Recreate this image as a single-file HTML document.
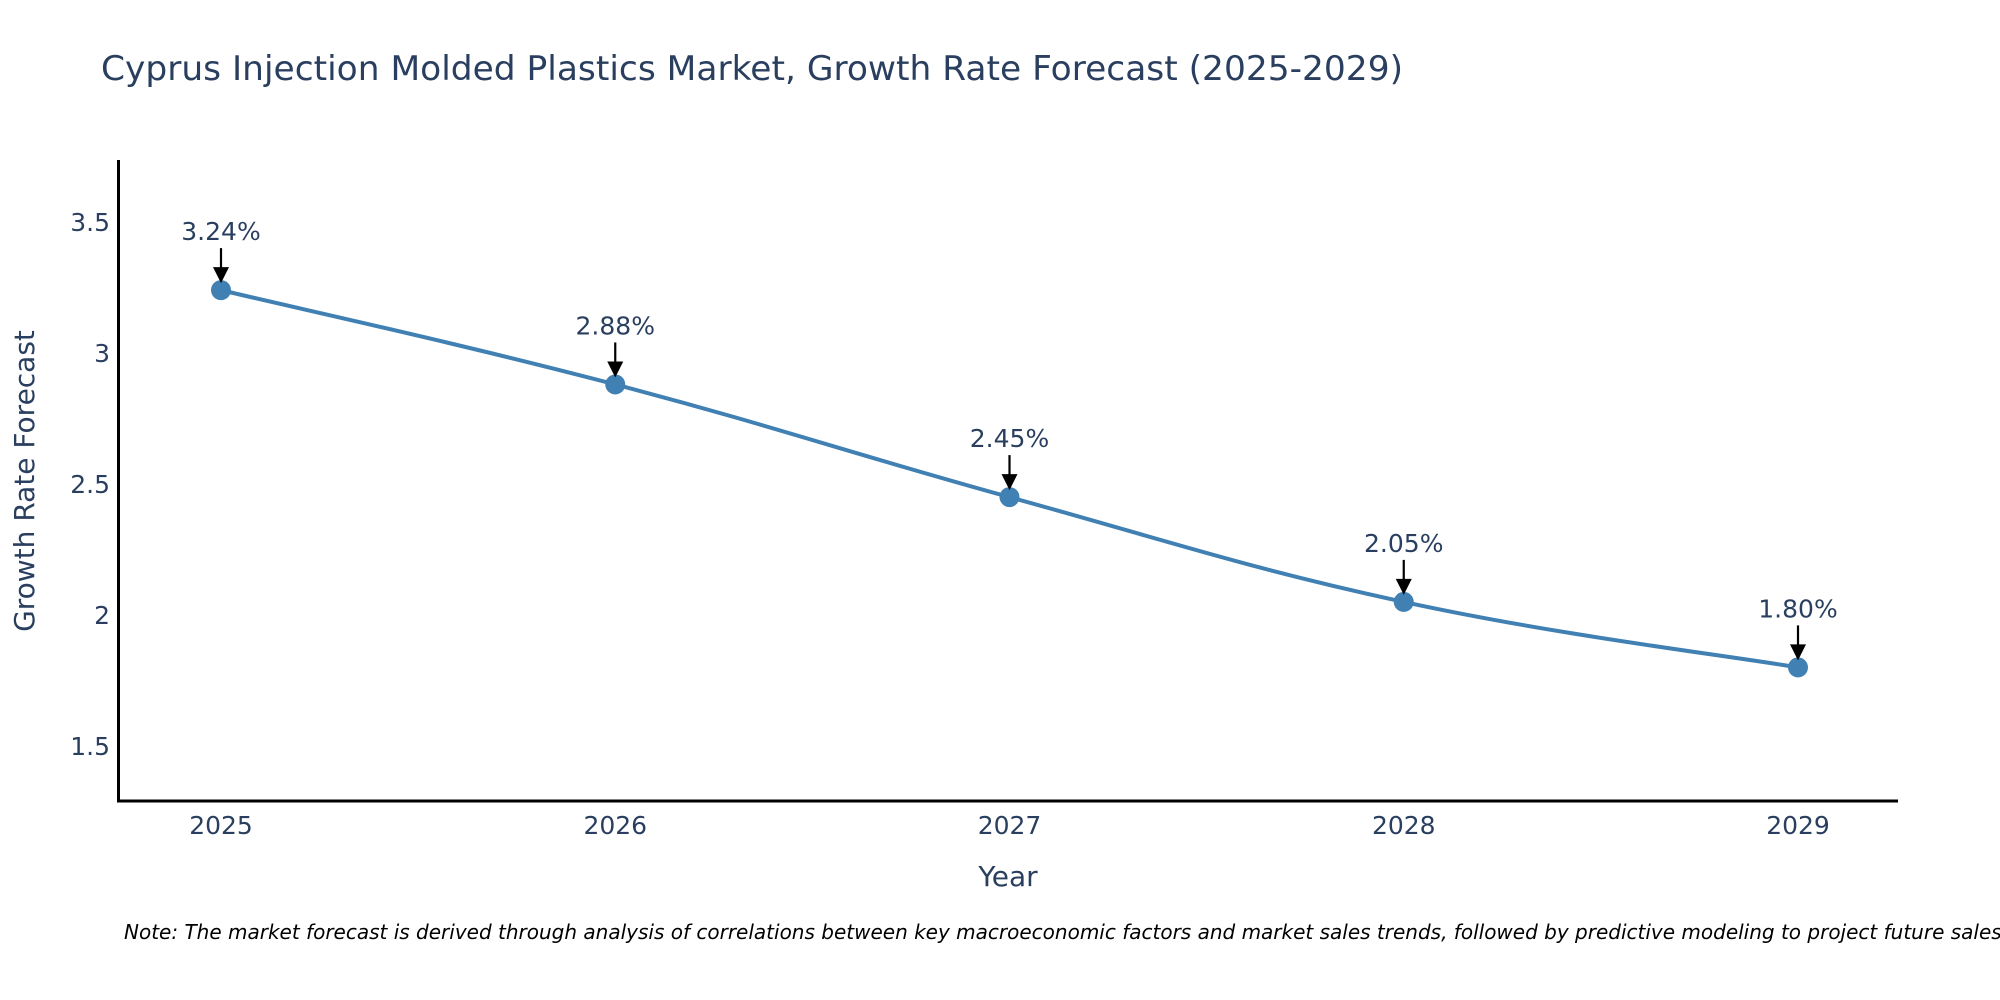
<!DOCTYPE html>
<html><head><meta charset="utf-8"><style>
html,body{margin:0;padding:0;background:#fff;}
svg{display:block;font-family:"DejaVu Sans","Liberation Sans",sans-serif;}
</style></head><body>
<svg id="chart" width="2000" height="1000" viewBox="0 0 2000 1000">
<text x="101" y="80" font-size="34" fill="#2a3f5f" textLength="1302" lengthAdjust="spacingAndGlyphs">Cyprus Injection Molded Plastics Market, Growth Rate Forecast (2025-2029)</text>
<g id="yticks"></g>
<g id="xticks"></g>
<path id="line" fill="none" stroke="#4180b3" stroke-width="4"/>
<g id="points"></g>
<g id="annots"></g>
<line x1="118.5" y1="160" x2="118.5" y2="802" stroke="#000" stroke-width="3"/>
<line x1="117" y1="801" x2="1898" y2="801" stroke="#000" stroke-width="3"/>
<text transform="translate(34,481) rotate(-90)" text-anchor="middle" font-size="28" fill="#2a3f5f">Growth Rate Forecast</text>
<text x="1008" y="886" text-anchor="middle" font-size="28" fill="#2a3f5f">Year</text>
<text x="124" y="939" font-size="20" font-style="italic" fill="#000">Note: The market forecast is derived through analysis of correlations between key macroeconomic factors and market sales trends, followed by predictive modeling to project future sales.</text>
</svg>
<script>
const years = [2025, 2026, 2027, 2028, 2029];
const rates = [3.24, 2.88, 2.45, 2.05, 1.80];
const labels = ["3.24%", "2.88%", "2.45%", "2.05%", "1.80%"];
const yTickVals = [1.5, 2, 2.5, 3, 3.5];
const yTickLabels = ["1.5", "2", "2.5", "3", "3.5"];

const NS = "http://www.w3.org/2000/svg";
const xScale = v => 221 + (v - 2025) * 394.25;
const yScale = v => 746 - (v - 1.5) * 262;

function mk(tag, attrs, parent) {
  const e = document.createElementNS(NS, tag);
  for (const k in attrs) e.setAttribute(k, attrs[k]);
  parent.appendChild(e);
  return e;
}
const yt = document.getElementById('yticks');
yTickVals.forEach((v, i) => {
  const t = mk('text', {x: 110, y: yScale(v) + 9, 'text-anchor': 'end', 'font-size': 25, fill: '#2a3f5f'}, yt);
  
  
  t.textContent = yTickLabels[i];
});
const xt = document.getElementById('xticks');
years.forEach(y => {
  const t = mk('text', {x: xScale(y), y: 834, 'text-anchor': 'middle', 'font-size': 25, fill: '#2a3f5f'}, xt);
  
  
  t.textContent = String(y);
});
const pts = years.map((y, i) => [xScale(y), yScale(rates[i])]);
let d = `M${pts[0][0]},${pts[0][1]}`;
const s = 0.2;
for (let i = 0; i < pts.length - 1; i++) {
  const p0 = pts[Math.max(0, i - 1)], p1 = pts[i], p2 = pts[i + 1], p3 = pts[Math.min(pts.length - 1, i + 2)];
  const c1 = [p1[0] + (p2[0] - p0[0]) * s, p1[1] + (p2[1] - p0[1]) * s];
  const c2 = [p2[0] - (p3[0] - p1[0]) * s, p2[1] - (p3[1] - p1[1]) * s];
  d += ` C${c1[0]},${c1[1]} ${c2[0]},${c2[1]} ${p2[0]},${p2[1]}`;
}
document.getElementById('line').setAttribute('d', d);
const pg = document.getElementById('points');
const ag = document.getElementById('annots');
pts.forEach((p, i) => {
  const c = mk('circle', {cx: p[0], cy: p[1], r: 10, fill: '#4180b3'}, pg);
  
  
  const l = mk('line', {x1: p[0], y1: p[1] - 42, x2: p[0], y2: p[1] - 20, stroke: '#000', 'stroke-width': 2.2}, ag);
  
  
  const h = mk('polygon', {points: `${p[0]-8},${p[1]-23} ${p[0]+8},${p[1]-23} ${p[0]},${p[1]-7}`, fill: '#000'}, ag);
  
  
  const t = mk('text', {x: p[0], y: p[1] - 50, 'text-anchor': 'middle', 'font-size': 25, fill: '#2a3f5f'}, ag);
  
  
  t.textContent = labels[i];
});
</script>
</body></html>
